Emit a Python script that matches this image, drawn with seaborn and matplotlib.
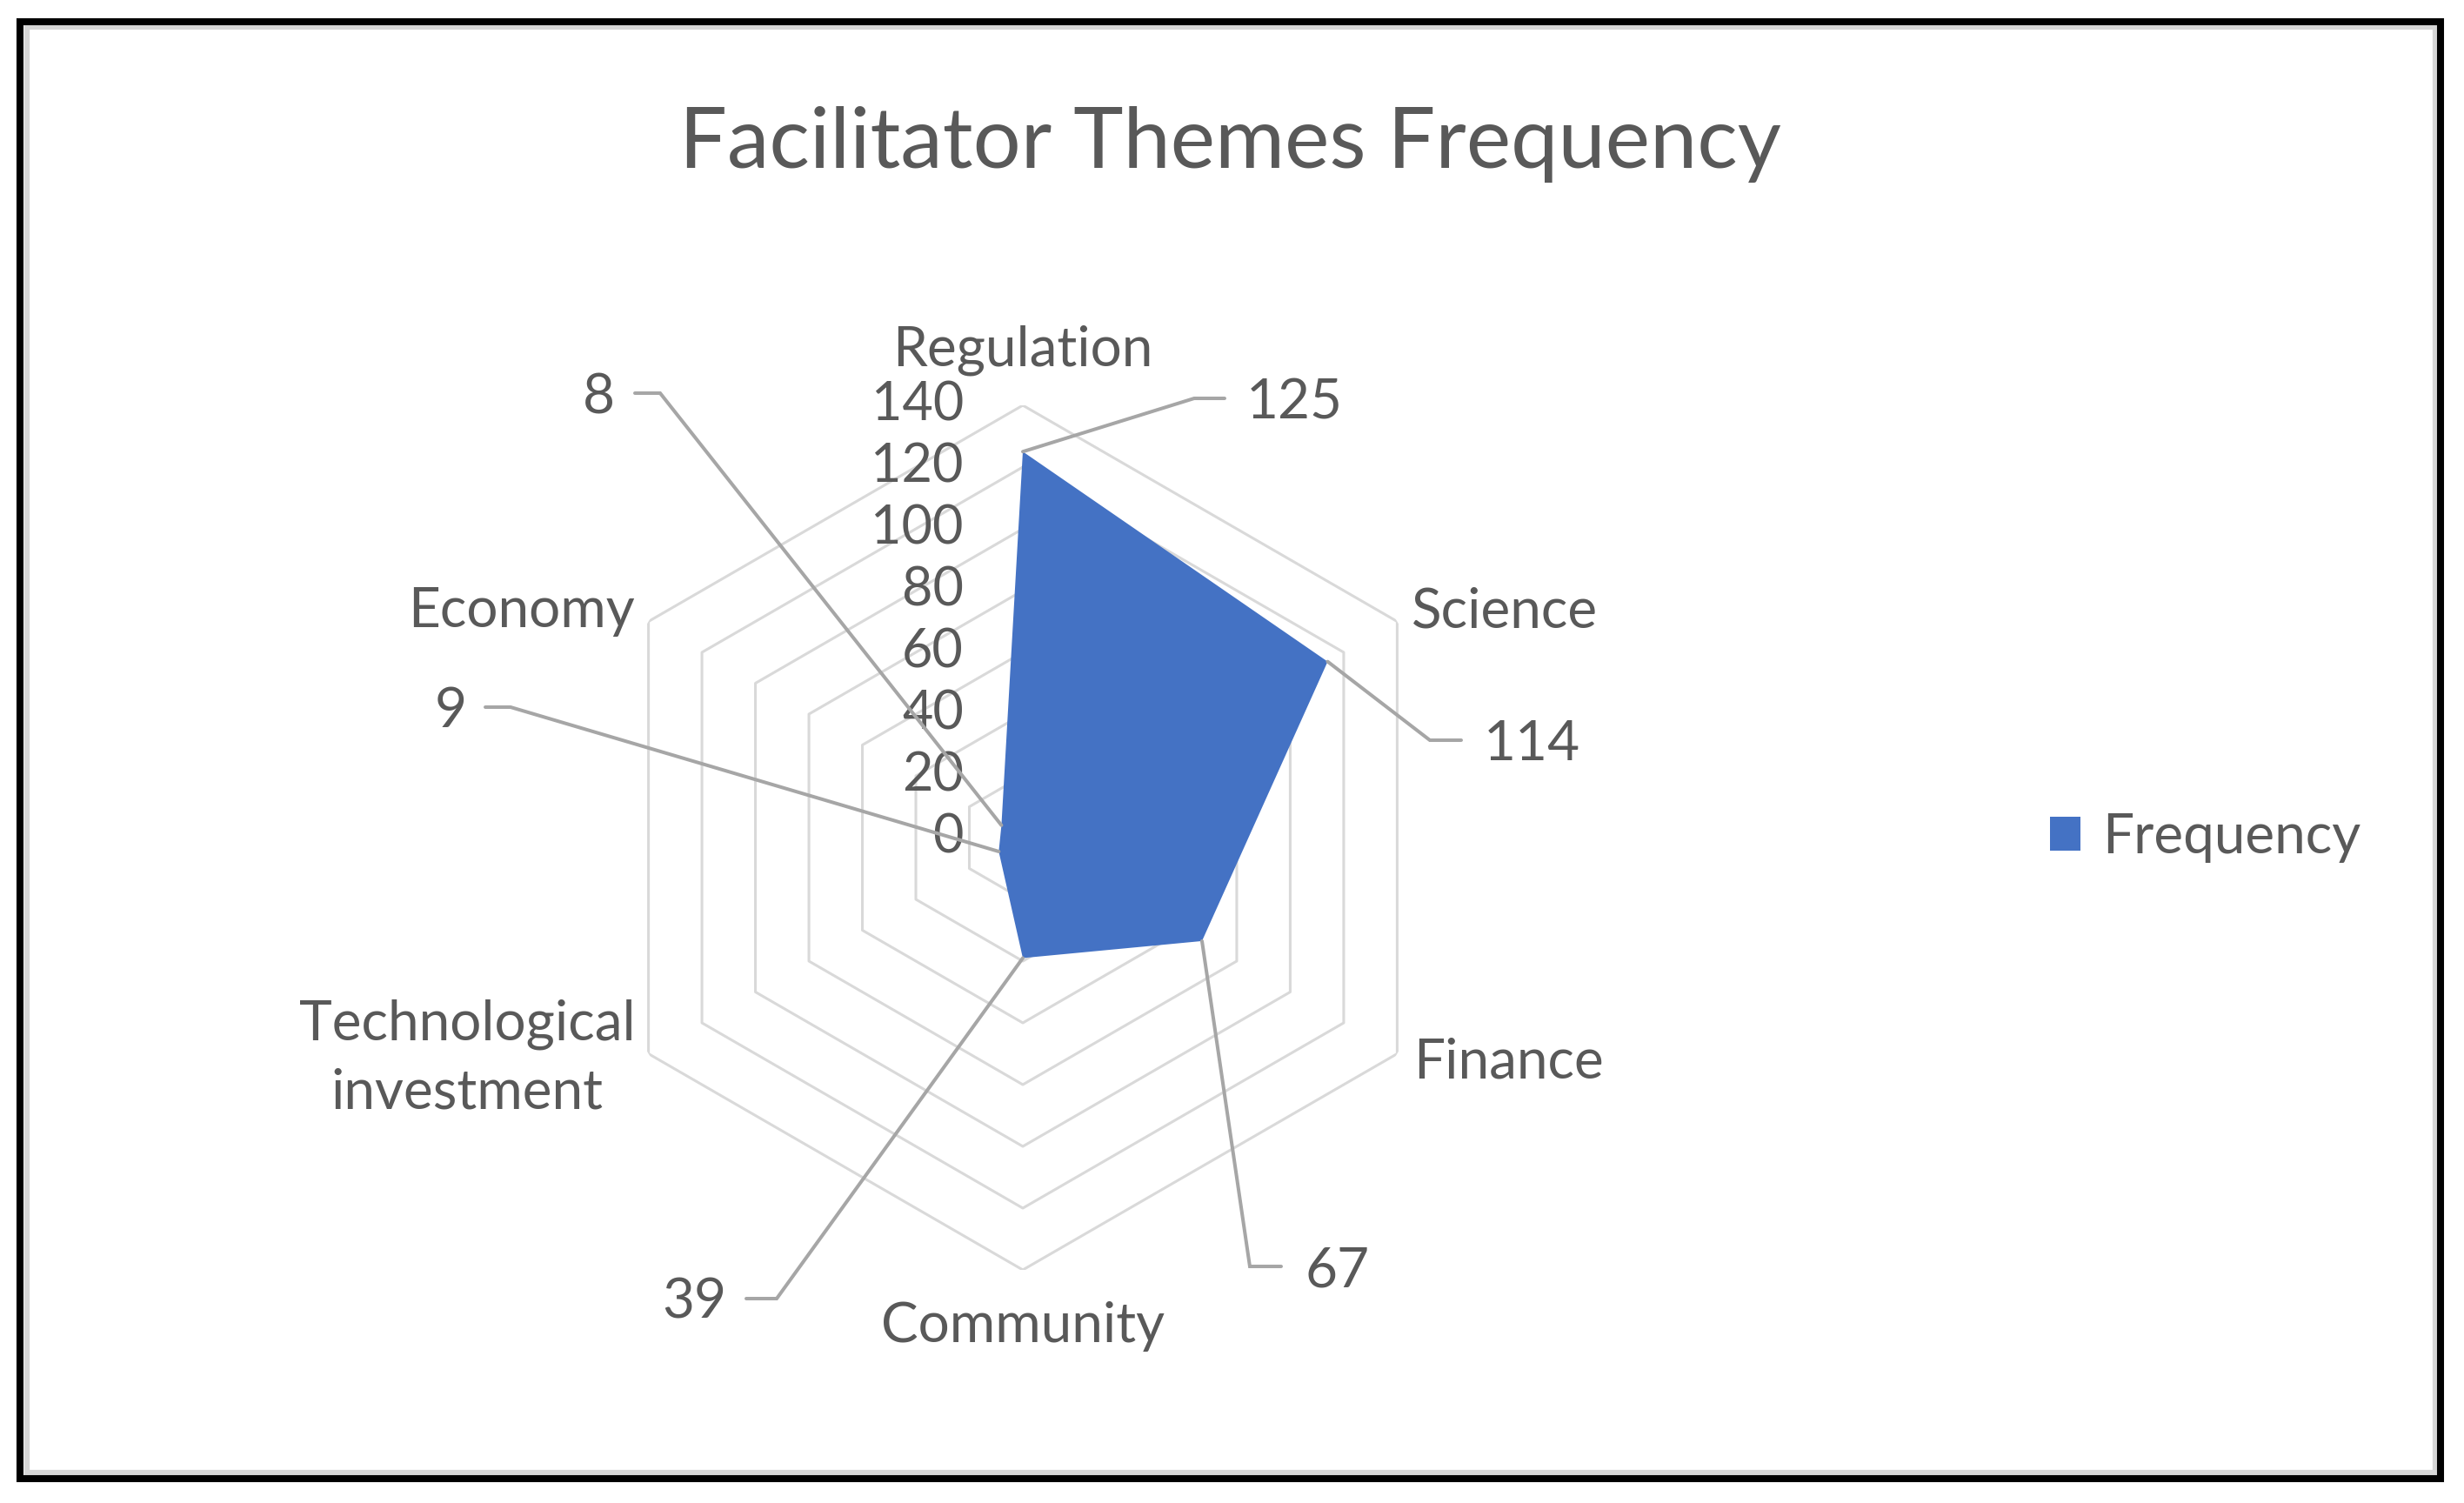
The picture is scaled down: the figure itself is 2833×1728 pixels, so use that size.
import numpy as np
import matplotlib
matplotlib.use("Agg")
import matplotlib.pyplot as plt
import matplotlib.transforms as mtransforms
from matplotlib.lines import Line2D
from matplotlib.patches import Rectangle
import seaborn as sns

# ---------------- data ----------------
categories = ["Regulation", "Science", "Finance", "Community",
              "Technological\ninvestment", "Economy"]
values = [125, 114, 67, 39, 9, 8]
series_name = "Frequency"
ticks = [0, 20, 40, 60, 80, 100, 120, 140]
title = "Facilitator Themes Frequency"

# ---------------- style ----------------
sns.set_theme(style="white")
plt.rcParams["font.family"] = ["Lato", "DejaVu Sans"]
TXT = "#595959"
FILL = "#4472C4"
GRID = "#d9d9d9"
LEAD = "#a6a6a6"

W, H = 2833, 1728
fig = plt.figure(figsize=(W / 100, H / 100), dpi=100)
fig.patch.set_facecolor("white")

def fx(x):
    return x / W

def fy(y):
    return 1 - y / H

cx, cy, R = 1176, 963, 497
ax = fig.add_axes([(cx - R) / W, (H - cy - R) / H, 2 * R / W, 2 * R / H],
                  projection="polar")
ax.set_theta_offset(np.pi / 2)
ax.set_theta_direction(-1)
ax.set_ylim(0, ticks[-1])
ax.grid(False)
ax.set_xticks([])
ax.set_yticks([])
ax.spines["polar"].set_visible(False)
ax.set_facecolor("none")

n = len(categories)
angles = np.linspace(0, 2 * np.pi, n, endpoint=False)
closed = np.concatenate([angles, angles[:1]])

for t in ticks[1:]:
    ax.plot(closed, [t] * (n + 1), color=GRID, lw=2.2, zorder=1)

vals_closed = values + values[:1]
ax.fill(closed, vals_closed, color=FILL, lw=0, zorder=2, label=series_name)

# radial tick labels
off = mtransforms.offset_copy(ax.transData, fig=fig, x=-68, y=0, units="dots")
for t in ticks:
    ax.text(0, t, str(t), transform=off, ha="right", va="center",
            fontsize=44, color=TXT, zorder=5)

# category labels (positions in pixels)
cat_pos = [(1176, 403, "center"), (1623, 703, "left"), (1625, 1222, "left"),
           (1176, 1525, "center"), (537, 1217, "center"), (730, 703, "right")]
for lab, (x, y, ha) in zip(categories, cat_pos):
    fig.text(fx(x), fy(y), lab, ha=ha, va="center", fontsize=46, color=TXT,
             multialignment="center", linespacing=1.45)

# data labels with leader lines: (elbow_x, stub_end_x, y, text_x, ha)
lab_pos = [(1373, 1408, 458, 1433, "left"),
           (1644, 1680, 851, 1706, "left"),
           (1437, 1473, 1456, 1501, "left"),
           (893, 858, 1493, 835, "right"),
           (587, 558, 813, 537, "right"),
           (759, 730, 452, 707, "right")]
fig.canvas.draw()
inv = fig.transFigure.inverted()
for a, v, (ex, sx, y, tx, ha) in zip(angles, values, lab_pos):
    px, py = ax.transData.transform((a, v))
    pfx, pfy = inv.transform((px, py))
    fig.add_artist(Line2D([pfx, fx(ex), fx(sx)], [pfy, fy(y), fy(y)],
                          transform=fig.transFigure, color=LEAD, lw=2.9,
                          zorder=6, solid_joinstyle="miter"))
    fig.text(fx(tx), fy(y + 5), str(v), ha=ha, va="center", fontsize=46,
             color=TXT)

# title
fig.text(fx(783 * W / 1568), fy(166), title, ha="center", va="center",
         fontsize=70, color=TXT)

# legend
fig.legend(loc="center left", bbox_to_anchor=(fx(2299), fy(963)),
           frameon=False, fontsize=46, handlelength=0.55, handleheight=0.55,
           handletextpad=0.4, labelcolor=TXT)

# outer frame (screenshot border)
fig.add_artist(Rectangle((fx(31), fy(1693)), fx(2800) - fx(31),
                         fy(31) - fy(1693), transform=fig.transFigure,
                         fill=False, edgecolor="#d6d6d6", lw=4.5))
fig.add_artist(Rectangle((fx(23), fy(1700)), fx(2806) - fx(23),
                         fy(25) - fy(1700), transform=fig.transFigure,
                         fill=False, edgecolor="black", lw=5.8))

fig.savefig("out.png", dpi=100, facecolor="white")
